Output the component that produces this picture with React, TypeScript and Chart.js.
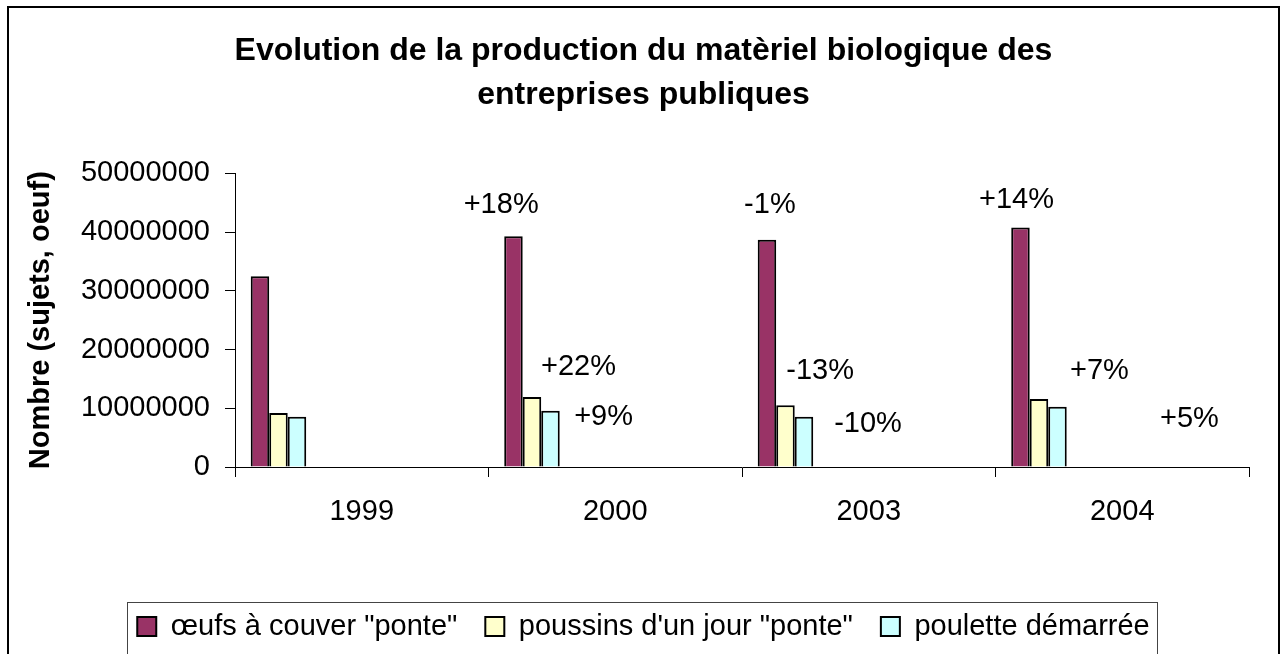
import React, { useEffect, useRef } from 'react';
import { Chart, registerables } from 'chart.js';

Chart.register(...registerables);

// ---- Data ----
const categories = ['1999', '2000', '2003', '2004'];
const oeufsPonte = [32500000, 39300000, 38700000, 40800000];
const poussinsPonte = [9200000, 11900000, 10500000, 11600000];
const pouletteDemarree = [8550000, 9600000, 8550000, 10250000];
const seriesNames = ['œufs à couver "ponte"', 'poussins d\'un jour "ponte"', 'poulette démarrée'];
const seriesColors = ['#993366', '#FFFFCC', '#CCFFFF'];
const emptySeriesCount = 9; // empty series of the original workbook (reserve bar slots)

const yMin = 0;
const yMax = 50000000;
const yStep = 10000000;

const titleLines = ['Evolution de la production du matèriel biologique des', 'entreprises publiques'];
const yAxisTitle = 'Nombre (sujets, oeuf)';

// Variation annotations (text, category index, position across category, value height)
const pctLabels = ['+18%', '+22%', '+9%', '-1%', '-13%', '-10%', '+14%', '+7%', '+5%'];
const pctCategory = [1, 1, 1, 2, 2, 2, 3, 3, 3];
const pctAcross = [0.05, 0.355, 0.454, 0.11, 0.308, 0.497, 0.083, 0.41, 0.765];
const pctValue = [44700000, 17000000, 8500000, 44600000, 16300000, 7400000, 45400000, 16300000, 8200000];

const FONT = "'Liberation Sans', Arial, sans-serif";

export default function App() {
  const canvasRef = useRef<HTMLCanvasElement | null>(null);

  useEffect(() => {
    const canvas = canvasRef.current;
    if (!canvas) return;

    const values = [oeufsPonte, poussinsPonte, pouletteDemarree];
    const datasets: any[] = values.map((d, i) => ({
      label: seriesNames[i],
      data: d,
      backgroundColor: seriesColors[i],
      borderColor: '#000000',
      borderWidth: 2,
    }));
    for (let k = 0; k < emptySeriesCount; k++) {
      datasets.push({ label: '', data: categories.map(() => null), backgroundColor: '#fff', borderWidth: 0 });
    }

    const framePlugin = {
      id: 'frame',
      beforeDraw(chart: any) {
        const ctx = chart.ctx;
        ctx.save();
        ctx.fillStyle = '#ffffff';
        ctx.fillRect(0, 0, chart.width, chart.height);
        ctx.strokeStyle = '#000000';
        ctx.lineWidth = 2;
        ctx.strokeRect(8, 7, chart.width - 16, chart.height + 20);
        ctx.restore();
      },
      afterDraw(chart: any) {
        const lg = chart.legend;
        if (!lg || !lg.legendHitBoxes || !lg.legendHitBoxes.length) return;
        const boxes = lg.legendHitBoxes;
        const first = boxes[0];
        const last = boxes[boxes.length - 1];
        const ctx = chart.ctx;
        ctx.save();
        ctx.strokeStyle = '#444444';
        ctx.lineWidth = 1;
        const left = first.left - 10;
        const right = last.left + last.width + 8;
        const top = first.top + (first.height - 19) / 2 - 15;
        ctx.strokeRect(Math.round(left) + 0.5, Math.round(top) + 0.5, Math.round(right - left), chart.height);
        ctx.restore();
      },
    };

    const pctPlugin = {
      id: 'pctLabels',
      afterDatasetsDraw(chart: any) {
        const xs = chart.scales.x;
        const ys = chart.scales.y;
        const catW = (xs.right - xs.left) / categories.length;
        const ctx = chart.ctx;
        ctx.save();
        ctx.fillStyle = '#000000';
        ctx.font = `29px ${FONT}`;
        ctx.textAlign = 'center';
        ctx.textBaseline = 'middle';
        pctLabels.forEach((t, i) => {
          const x = xs.left + catW * (pctCategory[i] + pctAcross[i]);
          const y = ys.getPixelForValue(pctValue[i]);
          ctx.fillText(t, x, y);
        });
        ctx.restore();
      },
    };

    const chart = new Chart(canvas, {
      type: 'bar',
      data: { labels: categories, datasets },
      plugins: [framePlugin, pctPlugin],
      options: {
        responsive: false,
        animation: false,
        devicePixelRatio: 1,
        layout: { padding: { left: 0, right: 0, top: 0, bottom: 3 } },
        datasets: { bar: { categoryPercentage: 0.876, barPercentage: 1 } },
        plugins: {
          tooltip: { enabled: false },
          title: {
            display: true,
            text: titleLines,
            color: '#000000',
            font: { family: FONT, size: 32, weight: 'bold', lineHeight: 1.35 },
            padding: { top: 30, bottom: 57 },
          },
          legend: {
            position: 'bottom',
            labels: {
              filter: (item: any) => item.datasetIndex < 3,
              boxWidth: 19,
              boxHeight: 19,
              padding: 28,
              color: '#000000',
              font: { family: FONT, size: 29 },
            },
          },
        },
        scales: {
          x: {
            grid: { offset: true, drawOnChartArea: false, drawTicks: true, tickLength: 10, color: '#000000', lineWidth: 1 },
            border: { display: true, color: '#000000', width: 1 },
            ticks: { color: '#000000', font: { family: FONT, size: 29 }, padding: 18, maxRotation: 0 },
            afterFit: (s: any) => { s.height = 117; },
          },
          y: {
            min: yMin,
            max: yMax,
            ticks: {
              stepSize: yStep,
              color: '#000000',
              font: { family: FONT, size: 29 },
              padding: 15,
              callback: (v: any) => String(v),
            },
            grid: { drawOnChartArea: false, drawTicks: true, tickLength: 10, color: '#000000', lineWidth: 1 },
            border: { display: true, color: '#000000', width: 1 },
            title: {
              display: true,
              text: yAxisTitle,
              color: '#000000',
              font: { family: FONT, size: 29, weight: 'bold' },
              padding: { top: 24, bottom: 0 },
            },
            afterFit: (s: any) => { s.width = 235; },
          },
          yRight: {
            position: 'right',
            display: true,
            grid: { display: false },
            border: { display: false },
            ticks: { display: false },
            afterFit: (s: any) => { s.width = 38; },
          },
        },
      } as any,
    });

    return () => chart.destroy();
  }, []);

  return (
    <div style={{ position: 'absolute', left: 0, top: 0, width: 1287, height: 654, overflow: 'hidden', background: '#fff' }}>
      <canvas ref={canvasRef} width={1287} height={654} style={{ width: 1287, height: 654, display: 'block' }} />
    </div>
  );
}
